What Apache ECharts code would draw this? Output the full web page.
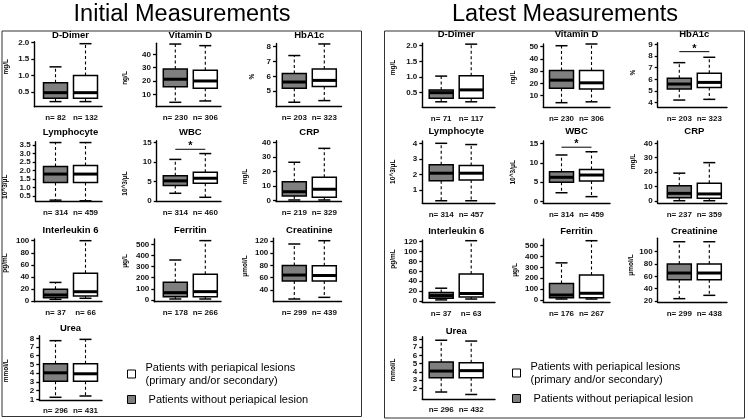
<!DOCTYPE html>
<html><head><meta charset="utf-8">
<script src="https://cdn.jsdelivr.net/npm/echarts@6/dist/echarts.min.js"></script>
<style>html,body{margin:0;padding:0;background:#fff}#c{width:748px;height:420px}</style>
</head><body><div id="c"></div>
<script>
// ---------------- DATA ----------------
const measures = ['D-Dimer','Vitamin D','HbA1c','Lymphocyte','WBC','CRP','Interleukin 6','Ferritin','Creatinine','Urea'];
const units = ['mg/L','ng/L','%','10^3/μL','10^3/μL','mg/L','pg/mL','μg/L','μmol/L','mmol/L'];
const nameWith = 'Patients with periapical lesions\n(primary and/or secondary)';
const nameWithout = ' Patients without periapical lesion';

// [min, Q1, median, Q3, max]
const initialWithout = [
  [0.21,0.31,0.48,0.78,1.26],[4,15.7,21.3,29,47.7],[4.26,5.2,5.62,6.2,7.4],[0.26,1.3,1.79,2.24,3.64],
  [1.98,4.0,5.18,6.47,10.7],[0.5,3.2,6.2,13.1,26.5],[2.8,5.5,10,19.5,30.8],[9,30,66,159,359],
  [25.3,54.7,64.4,80,115.1],[1.23,3.08,4.04,5.08,7.73]];
const initialWith = [
  [0.21,0.31,0.48,1.0,1.96],[5,14.5,20,28,46.5],[4.37,5.31,5.73,6.5,8.18],[0.22,1.3,1.79,2.29,3.64],
  [0.95,4.56,5.85,7.4,12.2],[0.5,2.3,7.9,16.1,36.1],[4.5,8.3,15.4,46,100],[9,30,75,231,533],
  [28,54.7,63.7,79.5,120.5],[1.38,3.08,3.93,5.08,7.88]];
const latestWithout = [
  [0.21,0.32,0.5,0.59,1.03],[4.3,16,22.7,30.5,50.8],[4.23,5.17,5.6,6.09,7.43],[0.31,1.6,2.08,2.62,4.0],
  [2.3,5.0,6.27,7.7,12.0],[0.2,2.3,5.3,10.5,19.3],[2.3,5.7,11,17,25.9],[9,21,46,153,342],
  [23.8,54.6,65.4,80,116.2],[1.55,3.3,4.1,5.2,7.85]];
const latestWith = [
  [0.21,0.32,0.59,1.04,2.05],[5,15.5,20.5,30.5,52.2],[4.29,5.31,5.74,6.52,7.89],[0.31,1.64,2.08,2.58,3.92],
  [1.3,5.3,6.85,8.3,12.83],[0.2,1.9,4.9,12.3,26.6],[4,8.3,15.2,54.5,122],[9,21,62,230,546],
  [29.2,54.6,65.4,80,116.2],[1.25,3.3,4.15,5.1,7.75]];

const initialN = [[82,132],[230,306],[203,323],[314,459],[314,460],[219,329],[37,66],[178,266],[299,439],[296,431]];
const latestN  = [[71,117],[230,306],[203,323],[314,457],[314,459],[237,359],[37,63],[176,267],[299,438],[296,432]];

// significance bracket height (value units), null = none
const initialSig = [null,null,null,null,13.3,null,null,null,null,null];
const latestSig  = [null,null,8.37,null,14.0,null,null,null,null,null];

const initialTicks = [
  ['0.5','1.0','1.5','2.0'],['10','20','30','40'],['5','6','7','8'],
  ['0.5','1.0','1.5','2.0','2.5','3.0','3.5'],['0','5','10','15'],['0','10','20','30','40'],
  ['0','20','40','60','80','100'],['0','100','200','300','400','500'],['40','60','80','100','120'],
  ['1','2','3','4','5','6','7','8']];
const latestTicks = [
  ['0.5','1.0','1.5','2.0'],['10','20','30','40','50'],['4','5','6','7','8','9'],
  ['1','2','3','4'],['0','5','10','15'],['0','10','20','30','40'],
  ['0','20','40','60','80','100','120'],['0','100','200','300','400','500'],['20','40','60','80','100'],
  ['2','3','4','5','6','7','8']];

// ---------------- LAYOUT ----------------
const initialLayout = {
  title:'Initial Measurements', titleX:182, frame:[2,31,359.5,385.5],
  axisX:[34.3,156,276,35.7,156.7,276,34.3,154.3,273.3,39.3],
  c1:[55.5,175.3,294.3], xEnd:[102,221,341.5],
  top:[41.7,43.3,43.5,141.7,140.7,140.7,239,239,238.3,335.7],
  rowBottom:[106.7,201.5,301.7,400],
  titleY:[35,132.3,230,328.3],
  yRange:[[0.056,2.02],[0.70,48.26],[3.96,8.21],[0.18,3.69],[-0.13,15.51],[-0.55,41.38],[-1.16,102.8],[-15.3,547.6],[20.9,124.4],[0.92,8.30]],
  unitPos:[[6.7,66.7],[125.5,78],[252.7,76.7],[5.5,186.7],[125.5,183.5],[245.5,176.5],[5.5,263],[125.5,261],[245.5,266],[6.7,370.8]],
  legend:[127,361]
};
const latestLayout = {
  title:'Latest Measurements', titleX:565, frame:[384.5,31,360,387],
  axisX:[422.3,543.3,657.7,422.3,543.3,657.7,422.3,543.3,657.7,422.3],
  c1:[441.2,561.5,679.3], xEnd:[495,610,727],
  top:[43.3,44,42.7,141,141,141,240,239,238.3,336.7],
  rowBottom:[107.3,203.3,302.3,399],
  titleY:[34,131.7,231,331],
  yRange:[[0.034,2.077],[0.53,52.2],[3.61,9.137],[0.146,4.148],[-0.41,15.59],[-1.59,41.6],[-2.6,123.4],[-21.2,561.7],[17.9,121.75],[0.70,8.28]],
  unitPos:[[393.3,67.5],[513.3,77.5],[633.3,72.7],[393.3,171.7],[513.3,172.3],[633.3,161.5],[393.3,259],[515,270],[631.7,265],[393.3,370]],
  legend:[512,360]
};

const panels = [
  {L:initialLayout, without:initialWithout, with:initialWith, n:initialN, sig:initialSig, ticks:initialTicks},
  {L:latestLayout,  without:latestWithout,  with:latestWith,  n:latestN,  sig:latestSig,  ticks:latestTicks}
];

// ---------------- STYLE ----------------
const FONT = '"Liberation Sans", Arial, sans-serif';
const GRAY = '#7f7f7f';
const INK = '#000';

function renderBox(params, api) {
  const x = api.value(0);
  const pMin = api.coord([x, api.value(1)]);
  const pQ1 = api.coord([x, api.value(2)]);
  const pMed = api.coord([x, api.value(3)]);
  const pQ3 = api.coord([x, api.value(4)]);
  const pMax = api.coord([x, api.value(5)]);
  const half = api.size([0.8, 0])[0] / 2;
  const cap = half / 2;
  const cx = pMed[0];
  const fill = api.visual('color');
  return {
    type: 'group',
    children: [
      {type:'line', shape:{x1:cx,y1:pQ3[1],x2:cx,y2:pMax[1]}, style:{stroke:INK,lineWidth:1.1,lineDash:[3,2.5]}},
      {type:'line', shape:{x1:cx,y1:pQ1[1],x2:cx,y2:pMin[1]}, style:{stroke:INK,lineWidth:1.1,lineDash:[3,2.5]}},
      {type:'line', shape:{x1:cx-cap,y1:pMax[1],x2:cx+cap,y2:pMax[1]}, style:{stroke:INK,lineWidth:1.5}},
      {type:'line', shape:{x1:cx-cap,y1:pMin[1],x2:cx+cap,y2:pMin[1]}, style:{stroke:INK,lineWidth:1.5}},
      {type:'rect', shape:{x:cx-half,y:pQ3[1],width:2*half,height:pQ1[1]-pQ3[1]}, style:{fill:fill,stroke:INK,lineWidth:1.5}},
      {type:'line', shape:{x1:cx-half,y1:pMed[1],x2:cx+half,y2:pMed[1]}, style:{stroke:INK,lineWidth:3}}
    ]
  };
}
function renderSig(params, api) {
  const p1 = api.coord([api.value(0), api.value(2)]);
  const p2 = api.coord([api.value(1), api.value(2)]);
  return {
    type:'group',
    children:[
      {type:'line', shape:{x1:p1[0],y1:p1[1],x2:p2[0],y2:p2[1]}, style:{stroke:INK,lineWidth:1}},
      {type:'text', x:(p1[0]+p2[0])/2, y:p1[1]-3, style:{text:'*', fill:INK, fontSize:11, fontWeight:'bold', fontFamily:FONT, align:'center', verticalAlign:'middle'}}
    ]
  };
}

const grids=[], xAxes=[], yAxes=[], series=[], graphics=[], legends=[];

panels.forEach(P => {
  const L = P.L;
  graphics.push({type:'rect', shape:{x:L.frame[0],y:L.frame[1],width:L.frame[2],height:L.frame[3]}, style:{fill:'none',stroke:'#333',lineWidth:1}, silent:true});
  graphics.push({type:'text', x:L.titleX, y:15, style:{text:L.title, fontSize:23.5, fontFamily:FONT, fill:'#000', align:'center', verticalAlign:'middle'}, silent:true});
  legends.push({
    orient:'vertical', left:L.legend[0], top:L.legend[1], padding:0, itemWidth:8, itemHeight:8, itemGap:6,
    icon:'rect', data:[nameWith, nameWithout], selectedMode:false,
    itemStyle:{borderColor:'#000', borderWidth:1},
    textStyle:{fontSize:11, fontFamily:FONT, color:'#000', lineHeight:13, padding:[0,0,0,5]}
  });
  measures.forEach((m, i) => {
    const col = i % 3, row = Math.floor(i / 3);
    const ax = L.axisX[i], c1 = L.c1[col], xe = L.xEnd[col];
    const top = L.top[i], bottom = L.rowBottom[row];
    const xMin = 1 - (c1 - ax) / 30, xMax = xMin + (xe - ax) / 30;
    const gi = grids.length;
    const tickStr = P.ticks[i];
    const tickVals = tickStr.map(Number);
    const nPair = P.n[i];
    grids.push({left:ax, top:top, width:xe-ax, height:bottom-top});
    xAxes.push({
      gridIndex:gi, type:'value', min:xMin, max:xMax,
      axisLine:{show:true, onZero:false, lineStyle:{color:INK, width:1.4}},
      axisTick:{show:false}, splitLine:{show:false},
      axisLabel:{customValues:[1,2], margin:7, fontSize:8, fontWeight:'bold', fontFamily:FONT, color:'#111',
        formatter: v => 'n= ' + nPair[Math.round(v) - 1]}
    });
    yAxes.push({
      gridIndex:gi, type:'value', min:L.yRange[i][0], max:L.yRange[i][1],
      axisLine:{show:true, onZero:false, lineStyle:{color:INK, width:1.4}},
      axisTick:{show:true, customValues:tickVals, length:3, lineStyle:{color:INK, width:1.3}},
      splitLine:{show:false},
      axisLabel:{customValues:tickVals, margin:5, fontSize:8, lineHeight:8, fontWeight:'bold', fontFamily:FONT, color:'#111',
        formatter: v => { const k = tickVals.findIndex(t => Math.abs(t - v) < 1e-9); return k >= 0 ? tickStr[k] : ''; }}
    });
    series.push({type:'custom', name:nameWithout, xAxisIndex:gi, yAxisIndex:gi, itemStyle:{color:GRAY}, renderItem:renderBox, data:[[1].concat(P.without[i])], silent:true});
    series.push({type:'custom', name:nameWith, xAxisIndex:gi, yAxisIndex:gi, itemStyle:{color:'#fff'}, renderItem:renderBox, data:[[2].concat(P.with[i])], silent:true});
    if (P.sig[i] != null) {
      series.push({type:'custom', xAxisIndex:gi, yAxisIndex:gi, renderItem:renderSig, data:[[1,2,P.sig[i]]], silent:true});
    }
    graphics.push({type:'text', x:c1+15, y:L.titleY[row], style:{text:m, fontSize:9.5, fontWeight:'bold', fontFamily:FONT, fill:'#000', align:'center', verticalAlign:'middle'}, silent:true});
    graphics.push({type:'text', x:L.unitPos[i][0], y:L.unitPos[i][1], rotation:Math.PI/2, style:{text:units[i], fontSize:6.5, fontWeight:'bold', fontFamily:FONT, fill:'#000', align:'center', verticalAlign:'middle'}, silent:true});
  });
});

const chart = echarts.init(document.getElementById('c'), null, {renderer:'canvas', width:748, height:420});
chart.setOption({
  backgroundColor:'#fff',
  animation:false,
  grid:grids, xAxis:xAxes, yAxis:yAxes, series:series, legend:legends, graphic:graphics,
  tooltip:{show:false}
});
</script>
</body></html>
